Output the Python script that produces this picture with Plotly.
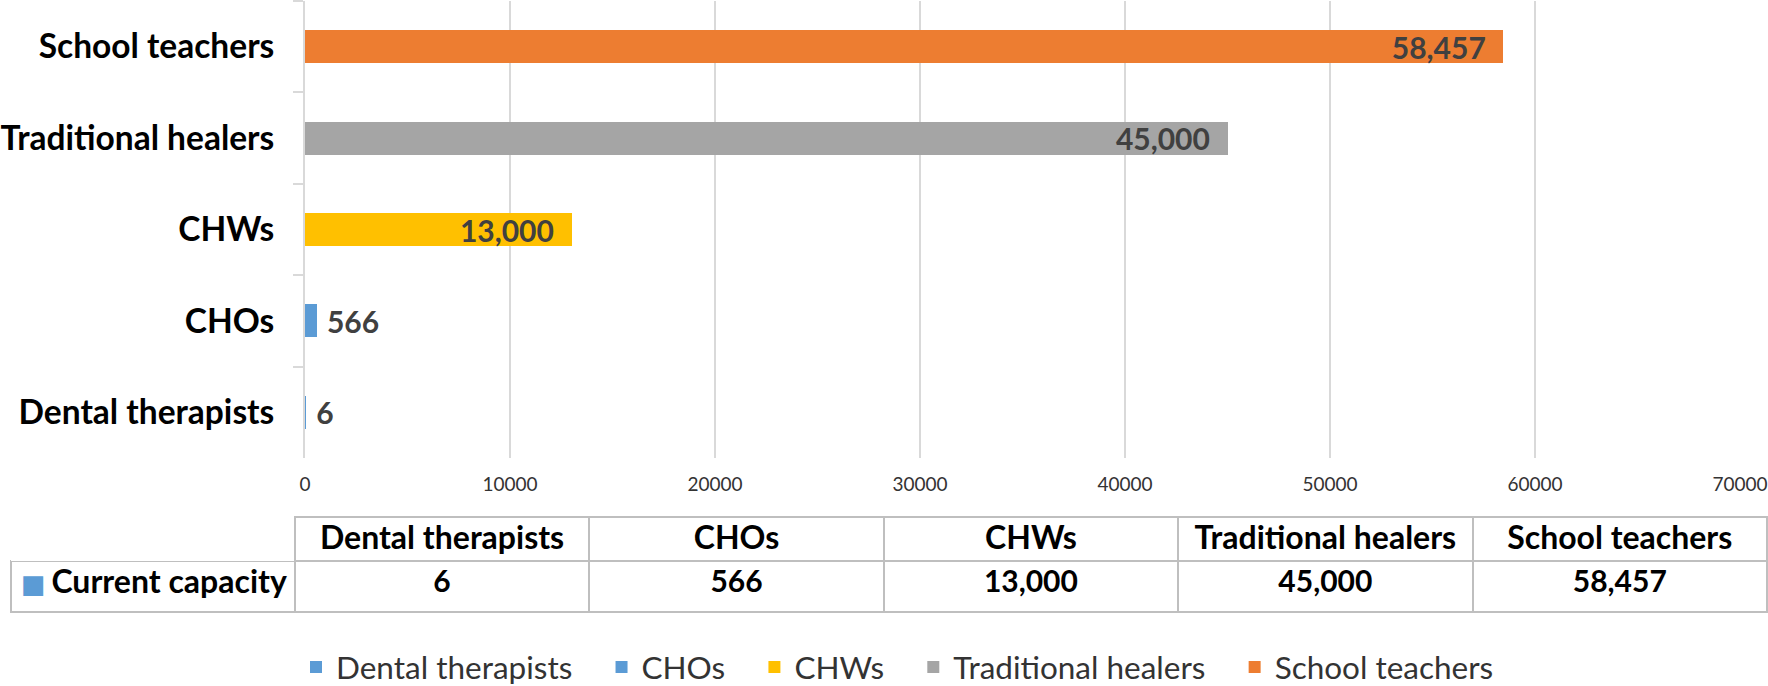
import plotly.graph_objects as go

categories = ["Dental therapists", "CHOs", "CHWs", "Traditional healers", "School teachers"]
values = [6, 566, 13000, 45000, 58457]
colors = ["#5B9BD5", "#5B9BD5", "#FFC000", "#A5A5A5", "#ED7D31"]
row_label = "Current capacity"
x_ticks = [0, 10000, 20000, 30000, 40000, 50000, 60000, 70000]

FONT = "Lato, 'Open Sans', sans-serif"
W, H = 1768, 686
NB = "\u00a0"

fig = go.Figure()
for cat, val, col in zip(categories, values, colors):
    inside = val > 5000
    fig.add_trace(go.Bar(
        x=[val], y=[cat], name=cat + NB * 3, orientation="h",
        marker=dict(color=col, line=dict(width=0)),
        texttemplate=("%{x:,}" + NB * 2) if inside else (NB + "%{x:,}"),
        textposition="inside" if inside else "outside",
        insidetextanchor="end", constraintext="none",
        textangle=0, cliponaxis=False,
        textfont=dict(family=FONT, size=30, color="#404040", weight="bold"),
    ))

header_vals = [""] + categories
cell_vals = [[row_label]] + [[v] for v in values]

fig.add_trace(go.Table(
    domain=dict(x=[11 / W, 1767 / W], y=[0.08, (H - 517) / H]),
    columnwidth=[284, 294.6, 294.6, 294.6, 294.6, 294.6],
    header=dict(
        values=header_vals, height=44,
        align="center",
        fill=dict(color="white"),
        line=dict(color="#BFBFBF", width=[0, 2, 2, 2, 2, 2]),
        font=dict(family=FONT, size=32, color="black", weight="bold"),
    ),
    cells=dict(
        values=cell_vals, height=51,
        format=["", ",", ",", ",", ",", ","],
        align=["right", "center", "center", "center", "center", "center"],
        fill=dict(color="white"),
        line=dict(color="#BFBFBF", width=2),
        font=dict(family=FONT, size=[32, 30, 30, 30, 30, 30], color="black", weight="bold"),
    ),
))

fig.update_layout(
    width=W, height=H,
    margin=dict(l=0, r=0, t=0, b=0, autoexpand=False),
    paper_bgcolor="white", plot_bgcolor="white",
    barmode="stack", bargap=0.64,
    showlegend=True,
    legend=dict(
        orientation="h", x=296 / W, xanchor="left", y=-8 / H, yanchor="bottom",
        font=dict(family=FONT, size=31.5, color="#333333"),
        traceorder="normal", itemwidth=30,
    ),
    xaxis=dict(
        domain=[305 / W, 1740 / W], range=[0, 70000],
        tickvals=x_ticks, tickformat="d",
        showgrid=True, gridcolor="#D9D9D9", gridwidth=2,
        zeroline=False, showline=False, ticks="",
        tickfont=dict(family=FONT, size=19, color="#333333"),
        ticklabelstandoff=13,
    ),
    yaxis=dict(
        domain=[(H - 458) / H, 1 - 1 / H],
        categoryorder="array", categoryarray=categories,
        showgrid=False, zeroline=False,
        showline=True, linecolor="#D9D9D9", linewidth=2,
        ticks="outside", tickson="boundaries", ticklen=10,
        tickcolor="#D9D9D9", tickwidth=2,
        tickfont=dict(family=FONT, size=33.5, color="black", weight="bold"),
        ticklabelstandoff=22,
    ),
    annotations=[dict(
        text="■", xref="paper", yref="paper", x=33.5 / W, y=(H - 584) / H,
        xanchor="center", yanchor="middle", showarrow=False,
        font=dict(family="DejaVu Sans", size=26, color="#5B9BD5"),
    )],
)

fig.write_html(
    "out.html",
    config={"displayModeBar": False},
    post_script="document.body.style.margin='0px';",
)
